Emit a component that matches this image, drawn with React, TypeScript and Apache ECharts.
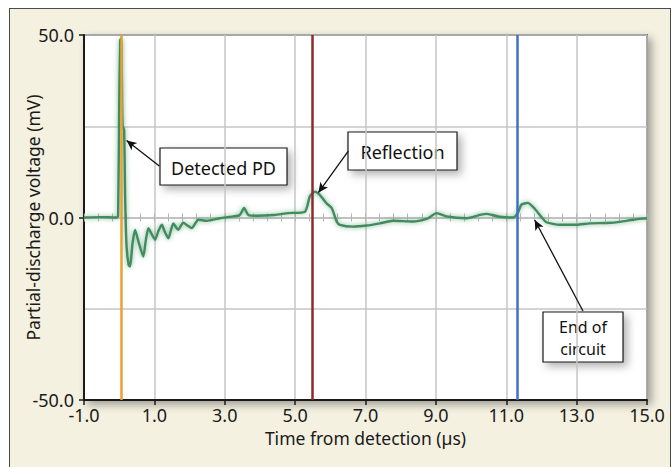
import React, { useEffect, useRef } from "react";
import * as echarts from "echarts";

// Signal trace (time in µs, voltage in mV)
const timeUs = [
  -1.0, -0.5, -0.1, -0.06, -0.03, 0.0, 0.03, 0.05, 0.065, 0.085, 0.1, 0.14, 0.17, 0.21, 0.27, 0.31,
  0.38, 0.45, 0.56, 0.685, 0.76, 0.83, 0.92, 1.02, 1.11, 1.21, 1.3, 1.4, 1.47, 1.54, 1.61, 1.68,
  1.75, 1.82, 1.94, 2.06, 2.25, 2.5, 2.72, 2.86, 3.24, 3.43, 3.55, 3.67, 3.9, 4.4, 4.8, 5.28,
  5.42, 5.56, 5.7, 5.89, 6.04, 6.18, 6.27, 6.64, 7.03, 7.41, 7.78, 8.35, 8.74, 9.02, 9.3, 9.87,
  10.25, 10.45, 10.8, 11.2, 11.34, 11.43, 11.61, 11.81, 12.0, 12.14, 12.52, 12.95, 13.38, 13.85,
  14.23, 14.6, 14.88, 15.0,
];
const voltageMv = [
  0, 0.1, 0, 0, 0.5, 30, 48.5, 49, 47, 30, 25, 24, 5, -8, -13, -13.4,
  -7, -3.4, -7, -10.7, -6, -2.9, -4.5, -6.1, -3.8, -2, -4, -5.7, -3.5, -1.6, -2.6, -3.4,
  -2.3, -1.4, -2.2, -2.9, -0.6, -0.9, -0.5, -0.2, 0.3, 0.7, 2.6, 0.7, 0.5, 0.7, 1.2, 1.6,
  5.8, 7.1, 6.2, 3.9, 2.6, -1.1, -2, -2.5, -2.2, -1.6, -0.9, -1.1, -0.4, 1.2, 0.3, -0.2,
  0.7, 1.0, 0.2, 0, 1.5, 3.5, 4, 2.4, 0.1, -1.3, -2, -2, -1.6, -1.5,
  -1.2, -0.6, -0.3, -0.2,
];

// Event markers (vertical lines)
const markerTimes = [0.05, 5.5, 11.3];
const markerColors = ["#e9a031", "#8c2a2c", "#3f70c4"];

// Annotations: label lines, arrow start (data coords), arrow tip (data coords)
const noteLabels = [["Detected PD"], ["Reflection"], ["End of", "circuit"]];
const noteArrowFrom = [[1.14, 14.1], [6.51, 18.2], [13.18, -25.6]];
const noteArrowTo = [[0.21, 21.1], [5.66, 6.8], [11.81, -0.7]];

// Axis settings
const xMin = -1;
const xMax = 15;
const xStep = 2;
const yMin = -50;
const yMax = 50;

const FONT = "Noto Sans";

export default function App() {
  const ref = useRef<HTMLDivElement>(null);

  useEffect(() => {
    if (!ref.current) return;
    const chart = echarts.init(ref.current, null, { renderer: "svg" });

    const boxes = [
      { x: 160, y: 148, w: 127, h: 37 },
      { x: 348, y: 132, w: 109, h: 38 },
      { x: 543, y: 312, w: 80, h: 50 },
    ];

    const textLines = (lines: string[], b: { w: number; h: number }) => {
      const step = 22.5;
      const y0 = b.h / 2 - ((lines.length - 1) * step) / 2 + 1;
      return lines.map((s, k) => ({
        type: "text",
        x: b.w / 2,
        y: y0 + k * step,
        style: {
          text: s,
          fontFamily: FONT,
          fontSize: lines.length > 1 ? 16 : 18,
          fill: "#111",
          align: "center",
          verticalAlign: "middle",
        },
      }));
    };

    chart.setOption({
      animation: false,
      backgroundColor: "transparent",
      textStyle: { fontFamily: FONT },
      grid: {
        left: 84,
        top: 35,
        right: 25,
        bottom: 67,
        show: true,
        backgroundColor: "#ffffff",
        borderColor: "#1a1a1a",
        borderWidth: 1.5,
        shadowBlur: 8,
        shadowColor: "rgba(0,0,0,0.35)",
        shadowOffsetX: 4,
        shadowOffsetY: 4,
      },
      xAxis: [
        {
          type: "value",
          min: xMin,
          max: xMax,
          interval: xStep,
          name: "Time from detection (\u00b5s)",
          nameLocation: "middle",
          nameGap: 29,
          nameMoveOverlap: false,
          nameTextStyle: { fontFamily: FONT, fontSize: 17.5, color: "#1a1a1a" },
          axisLine: { onZero: false, lineStyle: { color: "#1a1a1a", width: 2 } },
          axisTick: { show: true, length: 5, lineStyle: { color: "#1a1a1a", width: 1.5 } },
          axisLabel: {
            margin: 6,
            fontFamily: FONT,
            fontSize: 18,
            color: "#1a1a1a",
            formatter: (v: number) => v.toFixed(1),
          },
          splitLine: { show: true, lineStyle: { color: "#c6c6c6", width: 1.5 } },
        },
        {
          type: "value",
          min: xMin,
          max: xMax,
          interval: 0.4,
          position: "bottom",
          axisLine: { show: true, onZero: true, onZeroAxisIndex: 0, lineStyle: { color: "#bdbdbd", width: 1.5 } },
          axisTick: { show: true, inside: true, length: 4, lineStyle: { color: "#b5b5b5", width: 1 } },
          axisLabel: { show: false },
          splitLine: { show: false },
        },
        {
          type: "value",
          min: xMin,
          max: xMax,
          interval: 0.4,
          position: "bottom",
          axisLine: { show: false, onZero: true, onZeroAxisIndex: 0 },
          axisTick: { show: true, inside: false, length: 4, lineStyle: { color: "#b5b5b5", width: 1 } },
          axisLabel: { show: false },
          splitLine: { show: false },
        },
      ],
      yAxis: [
        {
          type: "value",
          min: yMin,
          max: yMax,
          interval: 50,
          name: "Partial-discharge voltage (mV)",
          nameLocation: "middle",
          nameGap: 42,
          nameMoveOverlap: false,
          nameTextStyle: { fontFamily: FONT, fontSize: 17.5, color: "#1a1a1a" },
          axisLine: { onZero: false, lineStyle: { color: "#1a1a1a", width: 2 } },
          axisTick: { show: true, length: 5, lineStyle: { color: "#1a1a1a", width: 1.5 } },
          axisLabel: {
            margin: 10,
            fontFamily: FONT,
            fontSize: 18,
            color: "#1a1a1a",
            formatter: (v: number) => v.toFixed(1),
          },
          splitLine: { show: false },
        },
        {
          type: "value",
          min: yMin,
          max: yMax,
          interval: 25,
          axisLine: { show: false, onZero: false },
          axisTick: { show: false },
          axisLabel: { show: false },
          splitLine: { show: true, lineStyle: { color: "#c6c6c6", width: 1.5 } },
        },
      ],
      series: [
        {
          type: "line",
          data: [],
          silent: true,
          markLine: {
            silent: true,
            symbol: "none",
            label: { show: false },
            data: markerTimes.map((t, i) => ({
              xAxis: t,
              lineStyle: { color: markerColors[i], width: 2.5, type: "solid" },
            })),
          },
        },
        {
          type: "line",
          data: timeUs.map((t, i) => [t, voltageMv[i]]),
          showSymbol: false,
          silent: true,
          smooth: 0.2,
          lineStyle: {
            color: "#3f8c5e",
            width: 2.4,
            shadowBlur: 5,
            shadowColor: "rgba(70,150,100,0.75)",
          },
          z: 3,
        },
        {
          type: "line",
          data: [],
          silent: true,
          z: 5,
          markLine: {
            silent: true,
            symbol: ["none", "arrow"],
            symbolSize: [7, 10],
            label: { show: false },
            lineStyle: { color: "#111", width: 1.3, type: "solid" },
            data: noteArrowFrom.map((f, i) => [{ coord: f }, { coord: noteArrowTo[i] }]),
          },
        },
      ],
      graphic: boxes.map((b, i) => ({
        type: "group",
        x: b.x,
        y: b.y,
        z: 100,
        children: [
          {
            type: "rect",
            shape: { x: 0, y: 0, width: b.w, height: b.h },
            style: {
              fill: "#ffffff",
              stroke: "#1a1a1a",
              lineWidth: 1.2,
              shadowBlur: 8,
              shadowOffsetX: 4,
              shadowOffsetY: 4,
              shadowColor: "rgba(0,0,0,0.3)",
            },
          },
          ...textLines(noteLabels[i], b),
        ],
      })),
    });

    return () => chart.dispose();
  }, []);

  return (
    <div style={{ position: "fixed", left: 0, top: 0, width: 672, height: 467 }}>
      <div
        style={{
          position: "absolute",
          left: 9,
          top: 8,
          width: 662,
          height: 470,
          background: "#f4f1e1",
          border: "1px solid #4a4a4a",
          boxSizing: "border-box",
        }}
      />
      <div ref={ref} style={{ position: "absolute", left: 0, top: 0, width: 672, height: 467 }} />
    </div>
  );
}
